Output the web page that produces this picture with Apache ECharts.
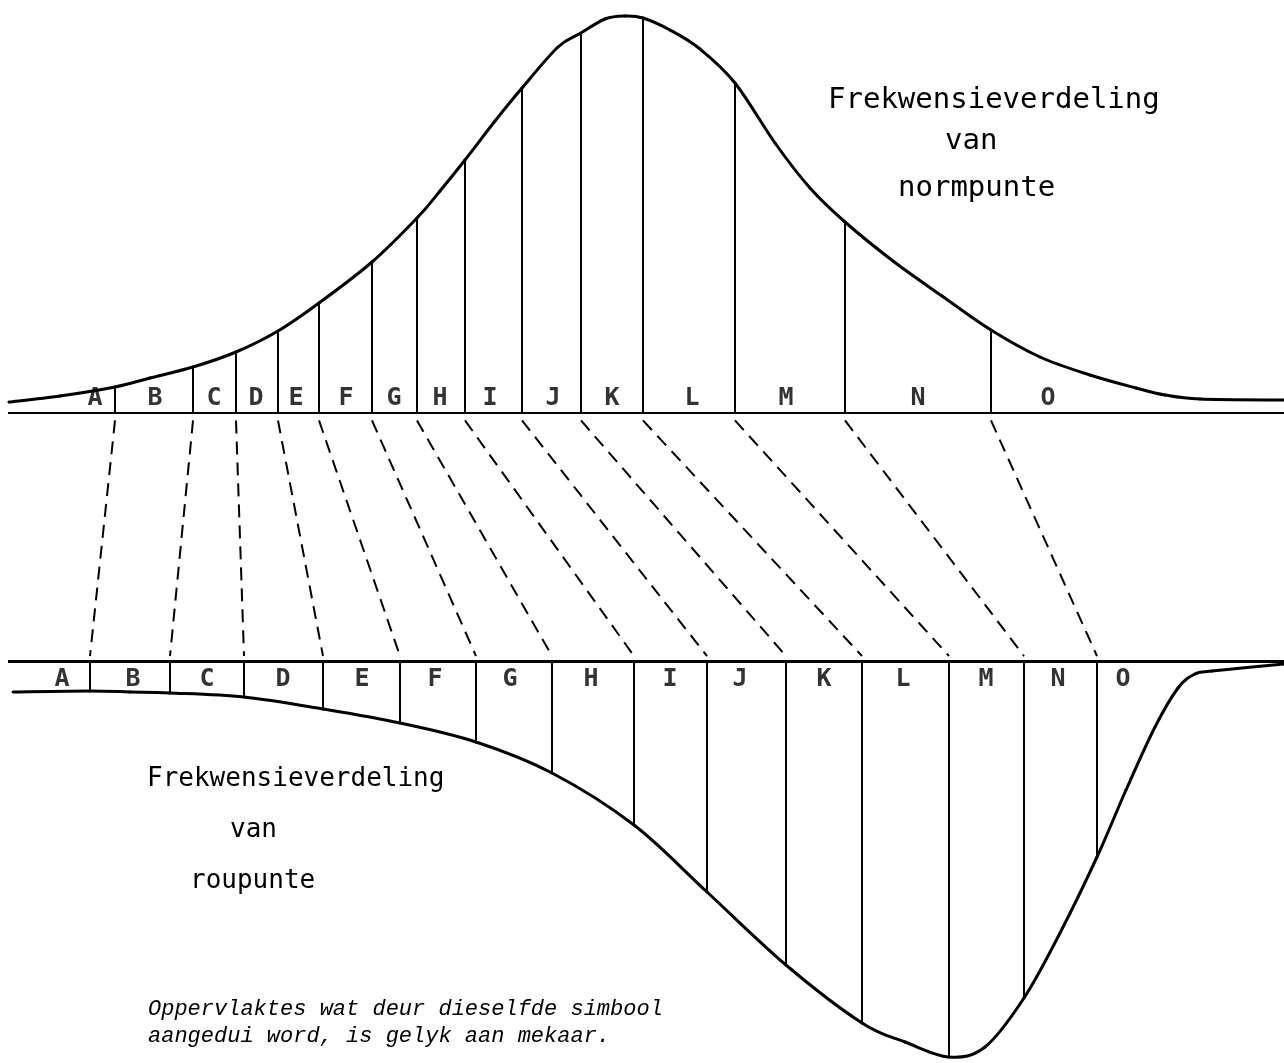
<!DOCTYPE html>
<html>
<head>
<meta charset="utf-8">
<script src="https://cdn.jsdelivr.net/npm/echarts@6/dist/echarts.min.js"></script>
<style>
  html, body { margin: 0; padding: 0; background: #fff; }
  #chart { width: 1284px; height: 1063px; }
</style>
</head>
<body>
<div id="chart"></div>
<script>
// gebiede A..O
const letters = ["A", "B", "C", "D", "E", "F", "G", "H", "I", "J", "K", "L", "M", "N", "O"];

// boonste verdeling (normpunte): grense en hoogtes bo die basislyn
const topBounds = [115, 193, 236, 278, 319, 372, 417, 465, 522, 581, 643, 735, 845, 991];
const topBoundHeights = [26, 46, 61, 82, 110, 151, 195, 253, 325, 380, 395, 330, 191, 83];
const topShape = [[9, 11], [60, 17], [150, 35], [440, 222], [495, 292], [558, 366], [605, 394],
  [625, 397], [670, 383], [700, 364], [775, 270], [810, 225], [893, 152], [942, 117],
  [1040, 56], [1090, 38], [1136, 25], [1165, 18], [1200, 14], [1284, 13]];
const topLetterX = [95, 155, 214, 256, 296, 346, 394, 440, 490, 553, 612, 692, 786, 918, 1048];

// onderste verdeling (roupunte): grense en dieptes onder die basislyn
const bottomBounds = [90, 170, 244, 323, 400, 476, 552, 634, 707, 786, 862, 949, 1024, 1097];
const bottomBoundDepths = [30, 32, 36, 48, 62, 81, 112, 164, 231, 304, 362, 396, 337, 196];
const bottomShape = [[13, 31], [130, 31], [905, 381], [985, 386], [1060, 272],
  [1126, 129], [1155, 66], [1178, 27], [1195, 13], [1212, 10], [1284, 3]];
const bottomLetterX = [62, 133, 207, 283, 362, 435, 510, 591, 670, 740, 824, 903, 986, 1058, 1123];

const ink = "#000";

const mergeCurve = (shape, xs, ys) =>
  shape.concat(xs.map((x, i) => [x, ys[i]])).sort((a, b) => a[0] - b[0]);

// gladde kromme deur die punte (Catmull-Rom as Bezier-segmente)
const curveSeries = (name, axisIndex, points) => ({
  name,
  type: "custom",
  coordinateSystem: "cartesian2d",
  xAxisIndex: axisIndex,
  yAxisIndex: axisIndex,
  clip: false,
  data: [points[0]],
  renderItem: (params, api) => {
    const p = points.map((d) => api.coord(d));
    const children = [];
    for (let i = 0; i < p.length - 1; i++) {
      const p0 = p[Math.max(i - 1, 0)];
      const p1 = p[i];
      const p2 = p[i + 1];
      const p3 = p[Math.min(i + 2, p.length - 1)];
      children.push({
        type: "bezierCurve",
        shape: {
          x1: p1[0], y1: p1[1], x2: p2[0], y2: p2[1],
          cpx1: p1[0] + (p2[0] - p0[0]) / 6, cpy1: p1[1] + (p2[1] - p0[1]) / 6,
          cpx2: p2[0] - (p3[0] - p1[0]) / 6, cpy2: p2[1] - (p3[1] - p1[1]) / 6,
        },
        style: { stroke: ink, fill: null, lineWidth: 3, lineCap: "round" },
      });
    }
    return { type: "group", children };
  },
});

const myChart = echarts.init(document.getElementById("chart"));

const xAxisBase = { type: "value", min: 0, max: 1284, show: false, splitLine: { show: false } };
const letterLabel = {
  show: true,
  position: "inside",
  formatter: (p) => p.data[2],
  color: ink,
  fontSize: 25,
  fontWeight: "bold",
  fontFamily: "DejaVu Sans Mono",
};

myChart.setOption({
  animation: false,
  backgroundColor: "#fff",
  grid: [
    { left: 0, right: 0, top: 0, height: 413 },   // bo
    { left: 0, right: 0, top: 661, height: 402 }, // onder
    { left: 0, right: 0, top: 413, height: 248 }, // verbindings
  ],
  xAxis: [
    { ...xAxisBase, gridIndex: 0 },
    { ...xAxisBase, gridIndex: 1 },
    { ...xAxisBase, gridIndex: 2 },
  ],
  yAxis: [
    { type: "value", gridIndex: 0, min: 0, max: 413, show: false, splitLine: { show: false } },
    { type: "value", gridIndex: 1, min: 0, max: 402, inverse: true, show: false, splitLine: { show: false } },
    { type: "value", gridIndex: 2, min: 0, max: 1, inverse: true, show: false, splitLine: { show: false } },
  ],
  graphic: [
    { type: "text", left: 828, top: 86, style: { text: "Frekwensieverdeling", font: "29px 'DejaVu Sans Mono'", fill: ink } },
    { type: "text", left: 945, top: 127, style: { text: "van", font: "29px 'DejaVu Sans Mono'", fill: ink } },
    { type: "text", left: 898, top: 174, style: { text: "normpunte", font: "29px 'DejaVu Sans Mono'", fill: ink } },
    { type: "text", left: 147, top: 766, style: { text: "Frekwensieverdeling", font: "26px 'DejaVu Sans Mono'", fill: ink } },
    { type: "text", left: 230, top: 817, style: { text: "van", font: "26px 'DejaVu Sans Mono'", fill: ink } },
    { type: "text", left: 190, top: 868, style: { text: "roupunte", font: "26px 'DejaVu Sans Mono'", fill: ink } },
    { type: "text", left: 148, top: 998, style: { text: "Oppervlaktes wat deur dieselfde simbool", font: "italic 22px 'Liberation Mono'", fill: ink } },
    { type: "text", left: 148, top: 1025, style: { text: "aangedui word, is gelyk aan mekaar.", font: "italic 22px 'Liberation Mono'", fill: ink } },
  ],
  series: [
    curveSeries("normpunte", 0, mergeCurve(topShape, topBounds, topBoundHeights)),
    {
      name: "normpunte grense",
      type: "lines",
      coordinateSystem: "cartesian2d",
      xAxisIndex: 0,
      yAxisIndex: 0,
      lineStyle: { color: ink, width: 2, opacity: 1 },
      data: [{ coords: [[8, 0], [1284, 0]], lineStyle: { width: 3 } }].concat(
        topBounds.map((x, i) => ({ coords: [[x, 0], [x, topBoundHeights[i]]] }))
      ),
    },
    {
      name: "normpunte letters",
      type: "scatter",
      xAxisIndex: 0,
      yAxisIndex: 0,
      symbolSize: 1,
      itemStyle: { color: "#fff" },
      label: letterLabel,
      data: topLetterX.map((x, i) => [x, 15, letters[i]]),
    },
    curveSeries("roupunte", 1, mergeCurve(bottomShape, bottomBounds, bottomBoundDepths)),
    {
      name: "roupunte grense",
      type: "lines",
      coordinateSystem: "cartesian2d",
      xAxisIndex: 1,
      yAxisIndex: 1,
      lineStyle: { color: ink, width: 2, opacity: 1 },
      data: [{ coords: [[8, 0], [1284, 0]], lineStyle: { width: 3 } }].concat(
        bottomBounds.map((x, i) => ({ coords: [[x, 0], [x, bottomBoundDepths[i]]] }))
      ),
    },
    {
      name: "roupunte letters",
      type: "scatter",
      xAxisIndex: 1,
      yAxisIndex: 1,
      symbolSize: 1,
      itemStyle: { color: "#fff" },
      label: letterLabel,
      data: bottomLetterX.map((x, i) => [x, 18, letters[i]]),
    },
    {
      name: "verbindings",
      type: "lines",
      coordinateSystem: "cartesian2d",
      xAxisIndex: 2,
      yAxisIndex: 2,
      lineStyle: { color: ink, width: 2, type: [13, 8], opacity: 1 },
      data: topBounds.map((x, i) => ({ coords: [[x, 0.03], [bottomBounds[i], 0.98]] })),
    },
  ],
});
</script>
</body>
</html>
